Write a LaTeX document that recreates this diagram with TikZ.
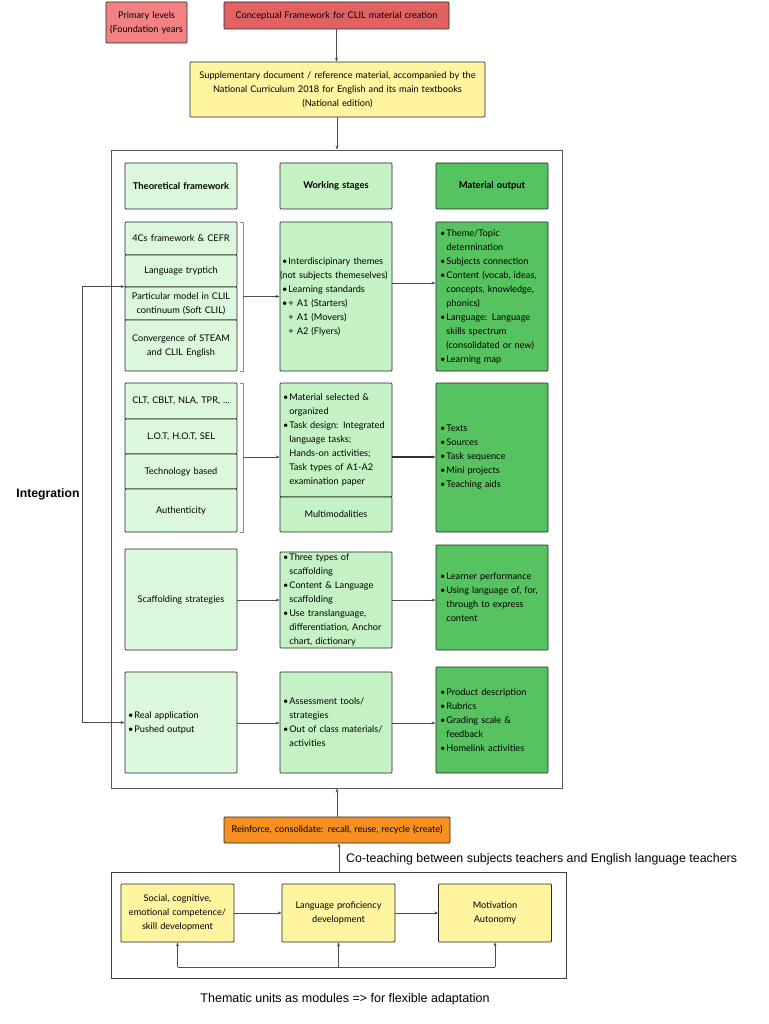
\documentclass[tikz,border=0pt]{standalone}
\usepackage{fontspec}
\setmainfont{Lato}
\newfontfamily\arialf{Liberation Sans}
\usetikzlibrary{arrows.meta}
\definecolor{pinkA}{RGB}{242,130,130}
\definecolor{redA}{RGB}{226,98,98}
\definecolor{yelA}{RGB}{255,244,160}
\definecolor{grL}{RGB}{220,248,220}
\definecolor{grM}{RGB}{196,242,196}
\definecolor{grD}{RGB}{86,194,96}
\definecolor{orA}{RGB}{247,144,32}
\newcommand\bl{\makebox[0.7em][l]{\textbullet}}
\newcommand\ind{\hspace*{0.7em}}
\begin{document}
\begin{tikzpicture}[x=1pt,y=-1pt,
  box/.style={draw=black!85, line width=0.7pt, rounded corners=0.8pt, inner ysep=0pt,
    font=\fontsize{9.2}{14}\selectfont},
  cbox/.style n args={2}{box, minimum width=#1, minimum height=#2, inner xsep=0pt, align=center},
  lbox/.style n args={2}{box, minimum width=#1, minimum height=#2, inner xsep=4pt, align=left},
  hdr/.style={font=\fontsize{9.4}{14}\selectfont\bfseries},
  arr/.style={draw=black!70, line width=0.6pt, -{Stealth[length=4pt,width=3pt]}},
  arrB/.style={draw=black!70, line width=0.6pt, {Stealth[length=4pt,width=3pt]}-{Stealth[length=4pt,width=3pt]}},
  ln/.style={draw=black!70, line width=0.6pt},
]
\useasboundingbox (0,0) rectangle (768,1024);
\fill[white] (0,0) rectangle (768,1024);

% top
\node[cbox={81}{41}, fill=pinkA, text width=81] (prim) at (146.5,22.5) {Primary levels\\(Foundation years};
\node[cbox={225}{27}, fill=redA, text width=225] (conc) at (336.5,15.5) {Conceptual Framework for CLIL material creation};
\node[cbox={295}{55}, fill=yelA, text width=295] (supp) at (337.5,89.5) {Supplementary document / reference material, accompanied by the\\National Curriculum 2018 for English and its main textbooks\\(National edition)};

% main frame
\node[draw=black!65, line width=0.9pt, minimum width=451, minimum height=638, inner sep=0pt] (frame) at (336.5,469) {};

% headers
\node[cbox={112}{46}, fill=grL, text width=112, hdr] (th) at (181,186) {Theoretical framework};
\node[cbox={112}{46}, fill=grM, text width=112, hdr] (ws) at (336,186) {Working stages};
\node[cbox={112}{46}, fill=grD, text width=112, hdr] (mo) at (492,186) {Material output};

% row 1
\node[cbox={112}{33}, fill=grL, text width=112] (ta) at (181,238.5) {4Cs framework \& CEFR};
\node[cbox={112}{32}, fill=grL, text width=112] (tb) at (181,271) {Language tryptich};
\node[cbox={112}{33}, fill=grL, text width=112] (tc) at (181,303.5) {Particular model in CLIL\\continuum (Soft CLIL)};
\node[cbox={112}{51}, fill=grL, text width=112] (td) at (181,345.5) {Convergence of STEAM\\and CLIL English};
\node[lbox={112}{149}, fill=grM, text width=108, inner xsep=2pt] (w1) at (336,296.5) {\bl Interdiscipinary themes\\\hspace*{-2pt}(not subjects themeselves)\\\bl Learning standards\\\bl + A1 (Starters)\\\ind + A1 (Movers)\\\ind + A2 (Flyers)};
\node[lbox={112}{149}, fill=grD, text width=104] (o1) at (492,296.5) {\bl Theme/Topic\\\ind determination\\\bl Subjects connection\\\bl Content (vocab, ideas,\\\ind concepts, knowledge,\\\ind phonics)\\\bl Language: Language\\\ind skills spectrum\\\ind (consolidated or new)\\\bl Learning map};

% row 2
\node[cbox={112}{36}, fill=grL, text width=112] (ua) at (181,401) {CLT, CBLT, NLA, TPR, ...};
\node[cbox={112}{35}, fill=grL, text width=112] (ub) at (181,436.5) {L.O.T, H.O.T, SEL};
\node[cbox={112}{35}, fill=grL, text width=112] (uc) at (181,471.5) {Technology based};
\node[cbox={112}{43}, fill=grL, text width=112] (ud) at (181,510.5) {Authenticity};
\node[lbox={112}{114}, fill=grM, text width=106, inner xsep=3pt] (w2) at (336,440) {\bl Material selected \&\\\ind organized\\\bl Task design: Integrated\\\ind language tasks;\\\ind Hands-on activities;\\\ind Task types of A1-A2\\\ind examination paper};
\node[cbox={112}{35}, fill=grM, text width=112] (w2b) at (336,514.5) {Multimodalities};
\node[lbox={112}{149}, fill=grD, text width=104] (o2) at (492,457.5) {\bl Texts\\\bl Sources\\\bl Task sequence\\\bl Mini projects\\\bl Teaching aids};

% row 3
\node[cbox={112}{101}, fill=grL, text width=112] (sc) at (181,599.5) {Scaffolding strategies};
\node[lbox={112}{96}, fill=grM, text width=106, inner xsep=3pt] (w3) at (336,600) {\bl Three types of\\\ind scaffolding\\\bl Content \& Language\\\ind scaffolding\\\bl Use translanguage,\\\ind differentiation, Anchor\\\ind chart, dictionary};
\node[lbox={112}{105}, fill=grD, text width=104] (o3) at (492,597.5) {\bl Learner performance\\\bl Using language of, for,\\\ind through to express\\\ind content};

% row 4
\node[lbox={112}{101}, fill=grL, text width=106, inner xsep=3pt] (ra) at (181,722.5) {\bl Real application\\\bl Pushed output};
\node[lbox={112}{101}, fill=grM, text width=106, inner xsep=3pt] (w4) at (336,722.5) {\bl Assessment tools/\\\ind strategies\\\bl Out of class materials/\\\ind activities};
\node[lbox={112}{106}, fill=grD, text width=104] (o4) at (492,720) {\bl Product description\\\bl Rubrics\\\bl Grading scale \&\\\ind feedback\\\bl Homelink activities};

% brackets
\draw[black!45, line width=0.6pt] (240,222) -- (243,222) -- (243,371) -- (240,371);
\draw[black!45, line width=0.6pt] (240,383) -- (243,383) -- (243,532) -- (240,532);
\coordinate (br1) at (243,296.5);
\coordinate (br2) at (243,457);

% row connectors
\draw[arr] (br1) -- (br1 -| w1.west);
\draw[arr] (w1.east |- 0,283) -- (o1.west |- 0,283);
\draw[arr] (br2) -- (br2 -| w2.west);
\draw[arr, draw=black!80, line width=1.1pt] (w2.east |- 0,457) -- (o2.west |- 0,457);
\draw[arr] (sc.east |- 0,600) -- (w3.west |- 0,600);
\draw[arr] (w3.east |- 0,600) -- (o3.west |- 0,600);
\draw[arr] (ra.east |- 0,723) -- (w4.west |- 0,723);
\draw[arr] (w4.east |- 0,723) -- (o4.west |- 0,723);

% integration
\coordinate (ib) at (82,722.5);
\draw[arrB] (ra.west) -- (ib) |- (tc.north west);
\node[font=\arialf\fontsize{12.2}{14}\selectfont\bfseries] (integ) at (48,494) {Integration};

% top connectors
\draw[arr] (conc.south) -- (conc.south |- supp.north);
\draw[arr] (supp.south -| 337,0) -- (frame.north -| 337,0);

% bottom
\node[cbox={226}{26}, fill=orA, text width=226] (reinf) at (337,830) {Reinforce, consolidate: recall, reuse, recycle (create)};
\node[anchor=west, font=\arialf\fontsize{12.4}{14}\selectfont, inner sep=0pt] (cot) at (346,859) {Co-teaching between subjects teachers and English language teachers};
\node[draw=black!75, line width=0.9pt, minimum width=455, minimum height=106, inner sep=0pt] (bframe) at (338.5,925) {};
\node[cbox={113}{58}, fill=yelA, text width=113] (y1) at (177.5,913) {Social, cognitive,\\emotional competence/\\skill development};
\node[cbox={113}{58}, fill=yelA, text width=113] (y2) at (338.5,913) {Language proficiency\\development};
\node[cbox={113}{58}, fill=yelA, text width=113] (y3) at (495,913) {Motivation\\Autonomy};
\draw[arr] (y1) -- (y2);
\draw[arr] (y2) -- (y3);
\draw[ln] (y1.south |- 0,967) -- (y3.south |- 0,967);
\draw[arr] (y1.south |- 0,967) -- (y1.south);
\draw[arr] (y2.south |- 0,967) -- (y2.south);
\draw[arr] (y3.south |- 0,967) -- (y3.south);
\draw[arr] (bframe.north -| 339,0) -- (reinf.south -| 339,0);
\draw[arr] (reinf.north -| 337,0) -- (frame.south -| 337,0);
\node[font=\arialf\fontsize{12.5}{14}\selectfont, inner sep=0pt] (them) at (345,999) {Thematic units as modules => for flexible adaptation};
\end{tikzpicture}
\end{document}
